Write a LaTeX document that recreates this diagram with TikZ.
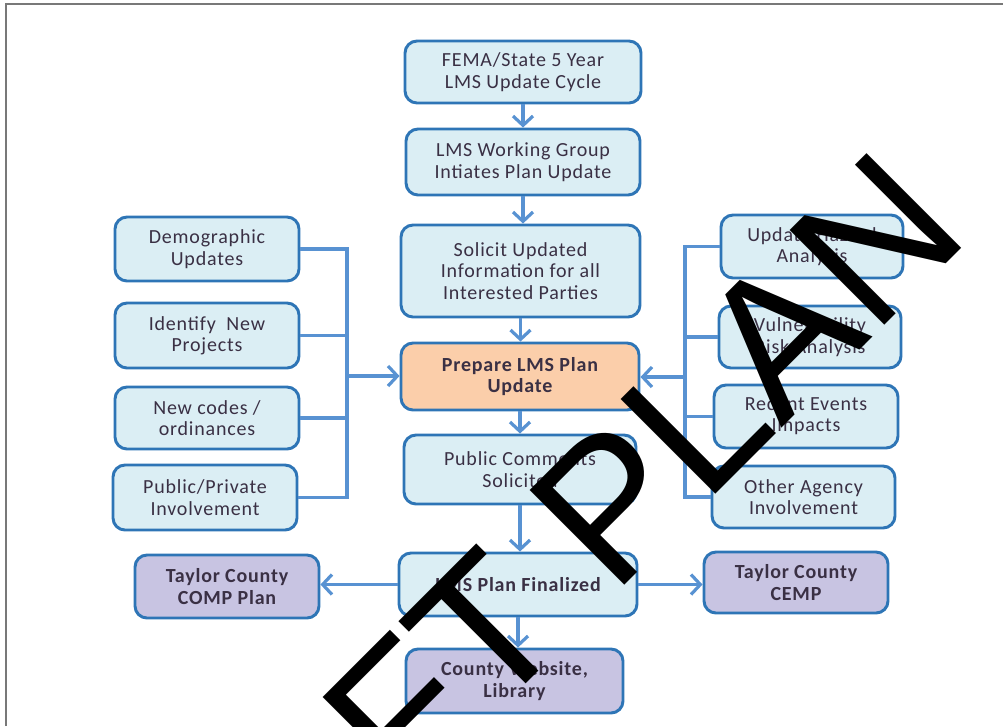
\documentclass[tikz,border=0pt]{standalone}
\usepackage{fontspec}
\setmainfont{Carlito}[LetterSpace=4]
\newfontfamily\wmfont{Liberation Sans}
\usetikzlibrary{arrows.meta}
\definecolor{boxline}{RGB}{46,117,182}
\definecolor{boxfill}{RGB}{219,238,244}
\definecolor{conncol}{RGB}{88,146,210}
\definecolor{purfill}{RGB}{200,196,226}
\definecolor{orgfill}{RGB}{251,206,170}
\definecolor{txtcol}{RGB}{58,48,68}
\definecolor{framecol}{RGB}{120,120,120}
\tikzset{
  box/.style={draw=boxline, line width=2.2pt, fill=boxfill, rounded corners=9pt,
    align=center, text=txtcol, inner sep=0pt,
    font=\fontsize{15pt}{16pt}\selectfont},
  boldbox/.style={box, font=\fontsize{15pt}{16pt}\selectfont\bfseries},
  conn/.style={draw=conncol, line width=2.6pt},
  arr/.style={conn, -{Straight Barb[length=7pt,width=15pt,line width=2.4pt]}},
}
\begin{document}
\begin{tikzpicture}[x=0.75pt,y=-0.75pt]
\useasboundingbox (0,0) rectangle (1003,726);
\fill[white] (0,0) rectangle (1003,726);
\draw[framecol, line width=1.3pt] (6,726) -- (6,4) -- (1003,4);

% central column
\node[box, minimum width=236*0.75pt, minimum height=62*0.75pt] (b1) at (523,72) {FEMA/State 5 Year\\LMS Update Cycle};
\node[box, minimum width=234*0.75pt, minimum height=66*0.75pt] (b2) at (523,162) {LMS Working Group\\Intiates Plan Update};
\node[box, minimum width=239*0.75pt, minimum height=92*0.75pt] (b3) at (520.5,271) {Solicit Updated\\Information for all\\Interested Parties};
\node[boldbox, fill=orgfill, minimum width=238*0.75pt, minimum height=67*0.75pt] (b4) at (520,376.5) {Prepare LMS Plan\\Update};
\node[box, minimum width=232*0.75pt, minimum height=69*0.75pt] (b5) at (520,469.5) {Public Comments\\Solicited};
\node[boldbox, minimum width=238*0.75pt, minimum height=63*0.75pt] (b6) at (518,584.5) {LMS Plan Finalized};
\node[boldbox, fill=purfill, minimum width=217*0.75pt, minimum height=64*0.75pt] (b7) at (514.5,681) {County Website,\\Library};

% left column
\node[box, minimum width=184*0.75pt, minimum height=64*0.75pt] (l1) at (207,249) {Demographic\\Updates};
\node[box, minimum width=184*0.75pt, minimum height=65*0.75pt] (l2) at (207,335.5) {Identify\ \ New\\Projects};
\node[box, minimum width=184*0.75pt, minimum height=62*0.75pt] (l3) at (207,418) {New codes /\\ordinances};
\node[box, minimum width=184*0.75pt, minimum height=65*0.75pt] (l4) at (205,497.5) {Public/Private\\Involvement};

% right column
\node[box, minimum width=182*0.75pt, minimum height=63*0.75pt] (r1) at (812,246.5) {Update Hazard\\Analysis};
\node[box, minimum width=182*0.75pt, minimum height=62*0.75pt] (r2) at (810,337) {Vulnerability\\Risk Analysis};
\node[box, minimum width=184*0.75pt, minimum height=63*0.75pt] (r3) at (806,416.5) {Recent Events\\Impacts};
\node[box, minimum width=183*0.75pt, minimum height=62*0.75pt] (r4) at (803.5,497) {Other Agency\\Involvement};

% outputs
\node[boldbox, fill=purfill, minimum width=184*0.75pt, minimum height=63*0.75pt] (p1) at (227,586.5) {Taylor County\\COMP Plan};
\node[boldbox, fill=purfill, minimum width=184*0.75pt, minimum height=61*0.75pt] (p2) at (796,582.5) {Taylor County\\CEMP};

% vertical arrows
\draw[arr] (b1.south) -- (b1.south |- b2.north);
\draw[arr] (b2.south) -- (b2.south |- b3.north);
\draw[arr] (b3.south) -- (b3.south |- b4.north);
\draw[arr] (b4.south) -- (b4.south |- b5.north);
\draw[arr] (b5.south) -- (b5.south |- b6.north);
\draw[arr] (b6.south) -- (b6.south |- b7.north);

% left bus
\coordinate (lbus) at (347,376);
\draw[conn] (l1.east) -| (lbus) |- (l4.east);
\draw[conn] (l2.east) -- (l2.east -| lbus);
\draw[conn] (l3.east) -- (l3.east -| lbus);
\draw[arr] (lbus) -- (lbus -| b4.west);

% right bus
\coordinate (rbus) at (685,377);
\draw[conn] (r1.west) -| (rbus) |- (r4.west);
\draw[conn] (r2.west) -- (r2.west -| rbus);
\draw[conn] (r3.west) -- (r3.west -| rbus);
\draw[arr] (rbus) -- (rbus -| b4.east);

% outputs arrows
\draw[arr] (b6.west) -- (b6.west -| p1.east);
\draw[arr] (b6.east) -- (b6.east -| p2.west);

% watermark
\begin{scope}
\clip (0,0) rectangle (1003,726);
\node[anchor=base west, inner sep=0pt, rotate=45, text=black,
  font=\wmfont\fontsize{146pt}{146pt}\selectfont] (wm) at (116,1094) {DRAFT PLAN};
\end{scope}
\end{tikzpicture}
\end{document}
